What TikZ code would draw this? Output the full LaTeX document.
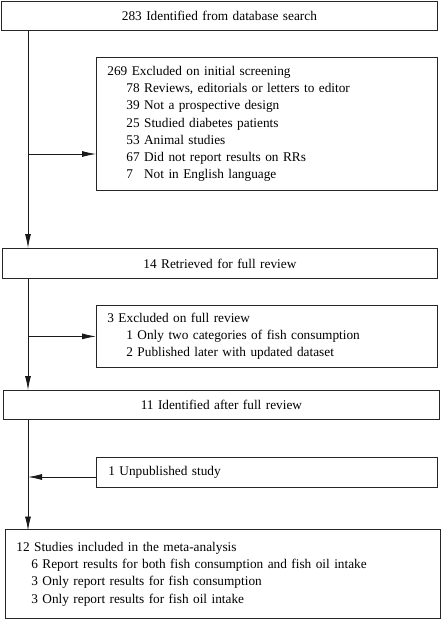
\documentclass[tikz,border=0pt]{standalone}
\usepackage{fontspec}
\setmainfont{Liberation Serif}
\usetikzlibrary{arrows.meta, positioning, calc}

\newcommand{\indt}[1][19pt]{\hspace*{#1}}

\begin{document}
\begin{tikzpicture}[x=1pt, y=-1pt, box/.style={draw=black!85, line width=0.8pt,
      anchor=north west, inner xsep=11pt, inner ysep=0pt,
      font=\fontsize{13.3pt}{17.3pt}\selectfont}, stagebox/.style={box,
      align=center, minimum height=29pt}, listbox/.style={box, align=left},
      flow/.style={draw=black!90, line width=0.8pt, -{Latex[length=14pt,
      width=6pt]}}]

    \useasboundingbox (0,0) rectangle (441,620);

    % Main stages of the search
    \node[stagebox, text width=414pt] (found) at (1,1) {283 Identified from
    database search\hspace*{19pt}}; \node[stagebox, text width=413pt, minimum
    height=30pt] (retrieved) at (2,248) {14 Retrieved for full
    review\hspace*{11pt}}; \node[stagebox, text width=414pt] (afterfull) at
    (3,390) {11 Identified after full review\hspace*{10pt}};

    % Side boxes
    \node[listbox, text width=319pt, minimum height=133pt] (screen) at (96,57)
    {269 Excluded on initial screening\\ \indt 78 Reviews, editorials or
    letters to editor\\ \indt 39 Not a prospective design\\ \indt 25 Studied
    diabetes patients\\ \indt 53 Animal studies\\ \indt 67 Did not report
    results on RRs\\ \indt 7\phantom{0} Not in English language};
    \node[listbox, text width=319pt, minimum height=62pt] (fullex) at (96,305)
    {3 Excluded on full review\\ \indt 1 Only two categories of fish
    consumption\\ \indt 2 Published later with updated dataset};
    \node[listbox, text width=317pt, inner xsep=12pt, minimum height=30pt]
    (unpub) at (96,457) {1 Unpublished study};

    % Final set of studies
    \node[listbox, text width=413pt, minimum height=89pt] (included) at (5,529)
    {12 Studies included in the meta-analysis\\ \indt[10.5pt] 6 Report results
    for both fish consumption and fish oil intake\\ \indt[10.5pt] 3 Only report
    results for fish consumption\\ \indt[10.5pt] 3 Only report results for fish
    oil intake};

    % Vertical line on the left and branch points
    \coordinate (spine) at (28,0); \coordinate (j1) at (28,154);
    \coordinate (j3) at (28,477);

    % Downward arrows
    \draw[flow] (spine |- found.south) -- (spine |- retrieved.north);
    \draw[flow] (spine |- retrieved.south) -- (spine |- afterfull.north);
    \draw[flow] (spine |- afterfull.south) -- ([yshift=-1.5pt]spine |-
    included.north);

    % Branch arrows
    \draw[flow] (j1) -- (j1 -| screen.west); \draw[flow] (spine |- fullex.west)
    -- (fullex.west); \draw[flow] (j3 -| unpub.west) -- (j3);

\end{tikzpicture}
\end{document}
